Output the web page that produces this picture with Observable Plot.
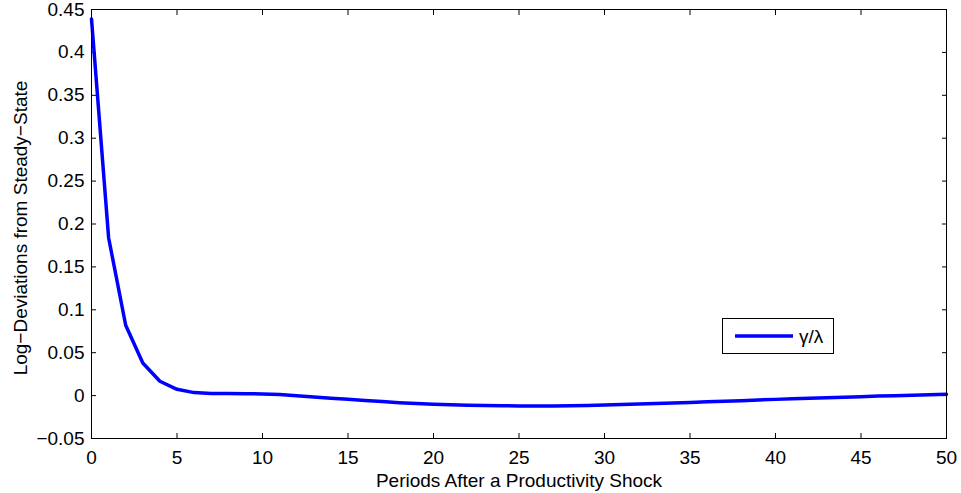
<!DOCTYPE html>
<html>
<head>
<meta charset="utf-8">
<script src="https://cdn.jsdelivr.net/npm/d3@7"></script>
<script src="https://cdn.jsdelivr.net/npm/@observablehq/plot@0.6"></script>
<style>
  body { margin: 0; background: #fff; }
  #wrap { position: relative; width: 961px; height: 493px; font-family: "Liberation Sans", Arial, Helvetica, sans-serif; }
  #legend { position: absolute; left: 722px; top: 318px; width: 110px; height: 34px; border: 1px solid #000; background: #fff; box-sizing: content-box; }
  #legend svg { position: absolute; left: 0; top: 0; }
</style>
</head>
<body>
<div id="wrap"></div>
<script>
const periods = d3.range(0, 51);
const values = [
  0.439, 0.184, 0.082, 0.038, 0.0167, 0.0073, 0.0035, 0.0025, 0.0024, 0.0023,
  0.0019, 0.0012, -0.0002, -0.0016, -0.0030, -0.0043, -0.0057, -0.0070, -0.0083, -0.0093,
  -0.0101, -0.0107, -0.0112, -0.0116, -0.0119, -0.0120, -0.0121, -0.0120, -0.0118, -0.0114,
  -0.0110, -0.0105, -0.0099, -0.0093, -0.0086, -0.0080, -0.0073, -0.0066, -0.0059, -0.0051,
  -0.0044, -0.0037, -0.0031, -0.0025, -0.0018, -0.0012, -0.0006, -0.0001, 0.0004, 0.0010,
  0.0015
];
const xTicks = [0, 5, 10, 15, 20, 25, 30, 35, 40, 45, 50];
const xTickLabels = ["0", "5", "10", "15", "20", "25", "30", "35", "40", "45", "50"];
const yTicks = [-0.05, 0, 0.05, 0.1, 0.15, 0.2, 0.25, 0.3, 0.35, 0.4, 0.45];
const yTickLabels = ["\u22120.05", "0", "0.05", "0.1", "0.15", "0.2", "0.25", "0.3", "0.35", "0.4", "0.45"];
const xLabel = "Periods After a Productivity Shock";
const yLabel = "Log\u2212Deviations from Steady\u2212State";
const seriesName = "\u03b3/\u03bb";

const data = periods.map((p, i) => ({period: p, value: values[i]}));
const font = 19;
const blank = () => "";

const chart = Plot.plot({
  width: 961,
  height: 493,
  marginLeft: 91,
  marginRight: 15,
  marginTop: 9,
  marginBottom: 55,
  style: {fontFamily: '"Liberation Sans", Arial, Helvetica, sans-serif', fontSize: font + "px", color: "#000", background: "#fff"},
  x: {domain: [0, 50]},
  y: {domain: [-0.05, 0.45]},
  marks: [
    // tick labels
    Plot.axisX({ticks: xTicks, tickSize: 0, tickPadding: 12, tickFormat: d => xTickLabels[xTicks.indexOf(d)], label: null, fontSize: font}),
    Plot.axisY({ticks: yTicks, tickSize: 0, tickPadding: 7, tickFormat: d => yTickLabels[yTicks.indexOf(d)], label: null, fontSize: font}),
    // inward ticks on all four sides
    Plot.axisX({anchor: "bottom", ticks: xTicks, tickSize: -5, tickFormat: blank, label: null, stroke: "#000"}),
    Plot.axisX({anchor: "top", ticks: xTicks, tickSize: -5, tickFormat: blank, label: null, stroke: "#000"}),
    Plot.axisY({anchor: "left", ticks: yTicks, tickSize: -5, tickFormat: blank, label: null, stroke: "#000"}),
    Plot.axisY({anchor: "right", ticks: yTicks, tickSize: -5, tickFormat: blank, label: null, stroke: "#000"}),
    Plot.line(data, {x: "period", y: "value", stroke: "#0000ff", strokeWidth: 3.5}),
    Plot.frame({stroke: "#000", strokeWidth: 1}),
    Plot.text([xLabel], {frameAnchor: "bottom", lineAnchor: "middle", dy: 42, fontSize: font, fill: "#000"}),
    Plot.text([yLabel], {frameAnchor: "left", textAnchor: "middle", lineAnchor: "middle", rotate: -90, dx: -71, dy: 4, fontSize: font, fill: "#000"})
  ]
});

const wrap = document.getElementById("wrap");
wrap.appendChild(chart);

const legend = document.createElement("div");
legend.id = "legend";
legend.innerHTML = `<svg width="110" height="34">
  <line x1="12" x2="70" y1="17" y2="17" stroke="#0000ff" stroke-width="3.5"/>
  <text x="76" y="17" dy="0.35em" font-size="${font}" font-family="Liberation Sans, Arial, sans-serif" fill="#000">${seriesName}</text>
</svg>`;
wrap.appendChild(legend);
</script>
</body>
</html>
